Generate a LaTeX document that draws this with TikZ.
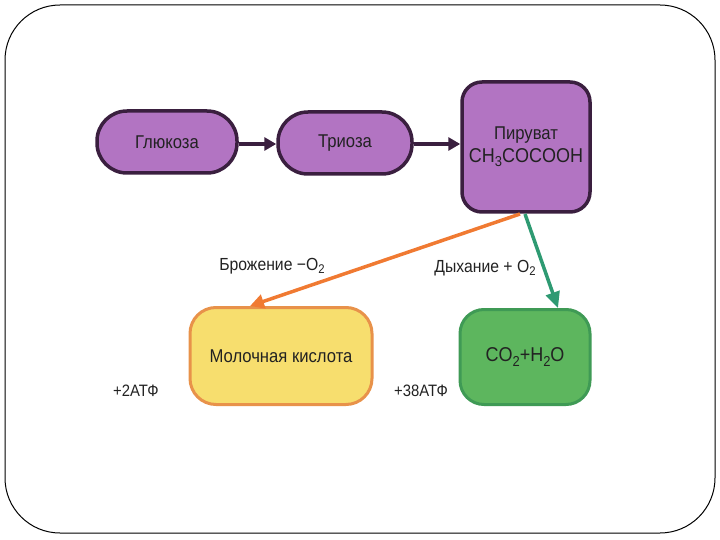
\documentclass[tikz,border=0pt]{standalone}
\usepackage{fontspec}
\setmainfont[FakeStretch=0.9]{Liberation Sans}
\usetikzlibrary{arrows.meta}
\definecolor{purp}{HTML}{B274C2}
\definecolor{purpline}{HTML}{3A1F3F}
\definecolor{yel}{HTML}{F7DE6E}
\definecolor{yelline}{HTML}{E8924A}
\definecolor{grn}{HTML}{5DB65E}
\definecolor{grnline}{HTML}{3F9A55}
\definecolor{orarr}{HTML}{F07A32}
\definecolor{grarr}{HTML}{2E9A72}
\definecolor{txt}{HTML}{222222}
\newcommand{\chsub}[1]{\raisebox{-0.4ex}{\scalebox{0.72}{#1}}}
\tikzset{
  box/.style={draw, line width=3pt, align=center, text=txt, font=\fontsize{18.5}{22}\selectfont, inner sep=0pt},
  pbox/.style={box, line width=3.5pt, draw=purpline, fill=purp},
  lbl/.style={text=txt, font=\fontsize{17.5}{20}\selectfont, inner sep=0pt},
  atf/.style={text=txt, font=\fontsize{16.5}{20}\selectfont, inner sep=0pt},
  blk/.style={-{Triangle[length=12pt,width=13pt]}, line width=3.5pt, draw=purpline},
}
\begin{document}
\begin{tikzpicture}[x=1pt,y=-1pt]
\useasboundingbox (0,0) rectangle (720,540);
\draw[line width=1pt, rounded corners=55pt] (5,5) rectangle (715,533);
\node[pbox, rounded corners=30pt, minimum width=140pt, minimum height=62pt] (g) at (167,142) {Глюкоза};
\node[pbox, rounded corners=30pt, minimum width=134pt, minimum height=62pt] (t) at (345,143) {Триоза};
\node[pbox, rounded corners=20pt, minimum width=128pt, minimum height=130pt] (p) at (526,147) {Пируват\\[1pt]\fontsize{20}{23}\selectfont CH\chsub{3}COCOOH};
\node[box, draw=yelline, fill=yel, rounded corners=26pt, minimum width=182pt, minimum height=97pt] (m) at (281,356) {Молочная кислота};
\node[box, draw=grnline, fill=grn, rounded corners=24pt, minimum width=130pt, minimum height=95pt] (c) at (525,357) {\fontsize{20}{23}\selectfont CO\chsub{2}+H\chsub{2}O};
\draw[blk] (g.east |- 0,144) -- (t.west |- 0,144);
\draw[blk] (t.east |- 0,144) -- (p.west |- 0,144);
\coordinate (po) at (520,214);
\coordinate (pg) at (525,214);
\draw[orarr, line width=3.5pt, -{Triangle[length=14pt,width=14pt]}] (po) -- (m.north west -| 250,0);
\draw[grarr, line width=3.5pt, -{Triangle[length=16pt,width=14pt]}] (pg) -- (558,308);
\node[lbl] (b) at (272,266) {Брожение −O\chsub{2}};
\node[lbl] (d) at (485,268) {Дыхание + O\chsub{2}};
\node[atf] (a1) at (136,391) {+2АТФ};
\node[atf] (a2) at (421,391) {+38АТФ};
\end{tikzpicture}
\end{document}
